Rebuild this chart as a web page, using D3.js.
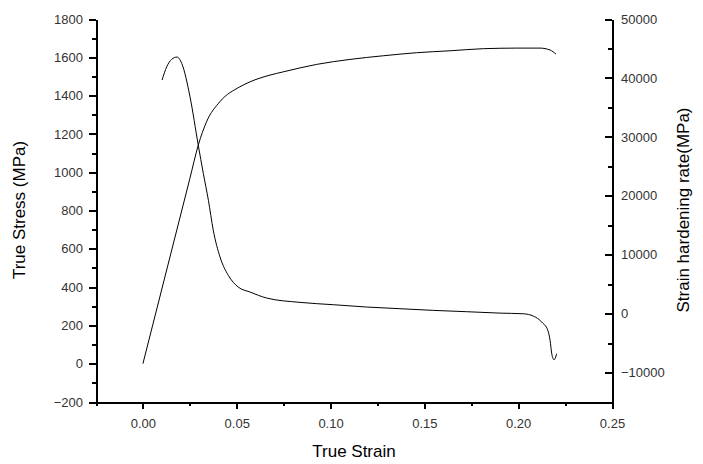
<!DOCTYPE html>
<html>
<head>
<meta charset="utf-8">
<script src="https://cdn.jsdelivr.net/npm/d3@7"></script>
<style>
body { margin: 0; background: #fff; }
.axis path, .axis line { stroke: #000; stroke-width: 2; shape-rendering: crispEdges; }
.axis text { font-family: Arial, "Liberation Sans", sans-serif; font-size: 13px; fill: #333; }
.title { font-family: Arial, "Liberation Sans", sans-serif; font-size: 17px; fill: #000; }
</style>
</head>
<body>
<script>
var width = 703,
    height = 464;

// true stress curve (left axis)
var stressStrain = [0, 0.0147, 0.025, 0.0295, 0.0339, 0.041, 0.0517, 0.0571, 0.0677, 0.0748, 0.0926, 0.1104,
    0.1281, 0.1459, 0.1637, 0.1815, 0.1992, 0.2116, 0.217, 0.2201];
var stress = [0, 568, 966, 1141, 1263, 1368, 1446, 1472, 1507, 1524, 1563, 1589,
    1608, 1624, 1634, 1645, 1648, 1648, 1638, 1617];

// strain hardening rate curve (right axis)
var rateStrain = [0.0102, 0.0127, 0.0153, 0.0182, 0.0207, 0.0251, 0.0295, 0.0322, 0.0349, 0.0375,
    0.0411, 0.0455, 0.0508, 0.0571, 0.066, 0.0837, 0.1015, 0.1193, 0.137, 0.1548,
    0.1726, 0.1903, 0.2028, 0.2081, 0.2126, 0.2158, 0.217, 0.2179, 0.2191, 0.2205];
var rate = [39634, 41900, 43150, 43540, 42460, 36796, 28588, 23779, 19242, 14144,
    9607, 6500, 4509, 3661, 2641, 1908, 1512, 1116, 833, 550,
    323, 85, -28, -425, -1445, -2850, -4550, -6816, -7835, -6816];

var xTicks = [0, 0.05, 0.10, 0.15, 0.20, 0.25];
var xMinor = [-0.025, 0.025, 0.075, 0.125, 0.175, 0.225];
var leftTicks = [-200, 0, 200, 400, 600, 800, 1000, 1200, 1400, 1600, 1800];
var leftMinor = [-100, 100, 300, 500, 700, 900, 1100, 1300, 1500, 1700];
var rightTicks = [-10000, 0, 10000, 20000, 30000, 40000, 50000];
var rightMinor = [-15000, -5000, 5000, 15000, 25000, 35000, 45000];

var svg = d3.select("body").append("svg").attr("width", width).attr("height", height);

var x = d3.scaleLinear().domain([-0.025, 0.25]).range([96, 612]);
var yL = d3.scaleLinear().domain([-200, 1800]).range([402, 19]);
var yR = d3.scaleLinear().domain([-15000, 50000]).range([402, 19]);

// minor ticks first, then major axes on top
svg.append("g").attr("class", "axis").attr("transform", "translate(0,402)")
    .call(d3.axisBottom(x).tickValues(xMinor).tickSize(4).tickSizeOuter(0).tickFormat(""));
svg.append("g").attr("class", "axis").attr("transform", "translate(0,402)")
    .call(d3.axisBottom(x).tickValues(xTicks).tickSize(7).tickSizeOuter(0).tickPadding(10)
        .tickFormat(d3.format(".2f")));

svg.append("g").attr("class", "axis").attr("transform", "translate(96,0)")
    .call(d3.axisLeft(yL).tickValues(leftMinor).tickSize(4).tickSizeOuter(0).tickFormat(""));
svg.append("g").attr("class", "axis").attr("transform", "translate(96,0)")
    .call(d3.axisLeft(yL).tickValues(leftTicks).tickSize(7).tickSizeOuter(0).tickPadding(6)
        .tickFormat(d3.format("d")));

svg.append("g").attr("class", "axis").attr("transform", "translate(612,0)")
    .call(d3.axisRight(yR).tickValues(rightMinor).tickSize(-4).tickSizeOuter(0).tickFormat(""));
svg.append("g").attr("class", "axis").attr("transform", "translate(612,0)")
    .call(d3.axisRight(yR).tickValues(rightTicks).tickSize(-7).tickSizeOuter(0).tickPadding(9)
        .tickFormat(d3.format("d")));

// curves
var stressLine = d3.line()
    .x((d, i) => x(stressStrain[i]))
    .y(d => yL(d))
    .curve(d3.curveMonotoneX);
svg.append("path").datum(stress)
    .attr("d", stressLine)
    .attr("fill", "none").attr("stroke", "#000").attr("stroke-width", 1);

var rateLine = d3.line()
    .x((d, i) => x(rateStrain[i]))
    .y(d => yR(d))
    .curve(d3.curveMonotoneX);
svg.append("path").datum(rate)
    .attr("d", rateLine)
    .attr("fill", "none").attr("stroke", "#000").attr("stroke-width", 1);

// titles
svg.append("text").attr("class", "title")
    .attr("text-anchor", "middle")
    .attr("x", 354).attr("y", 457)
    .text("True Strain");
svg.append("text").attr("class", "title")
    .attr("text-anchor", "middle")
    .attr("transform", "translate(25,210) rotate(-90)")
    .text("True Stress (MPa)");
svg.append("text").attr("class", "title")
    .attr("text-anchor", "middle")
    .attr("transform", "translate(689,210) rotate(-90)")
    .text("Strain hardening rate(MPa)");
</script>
</body>
</html>
